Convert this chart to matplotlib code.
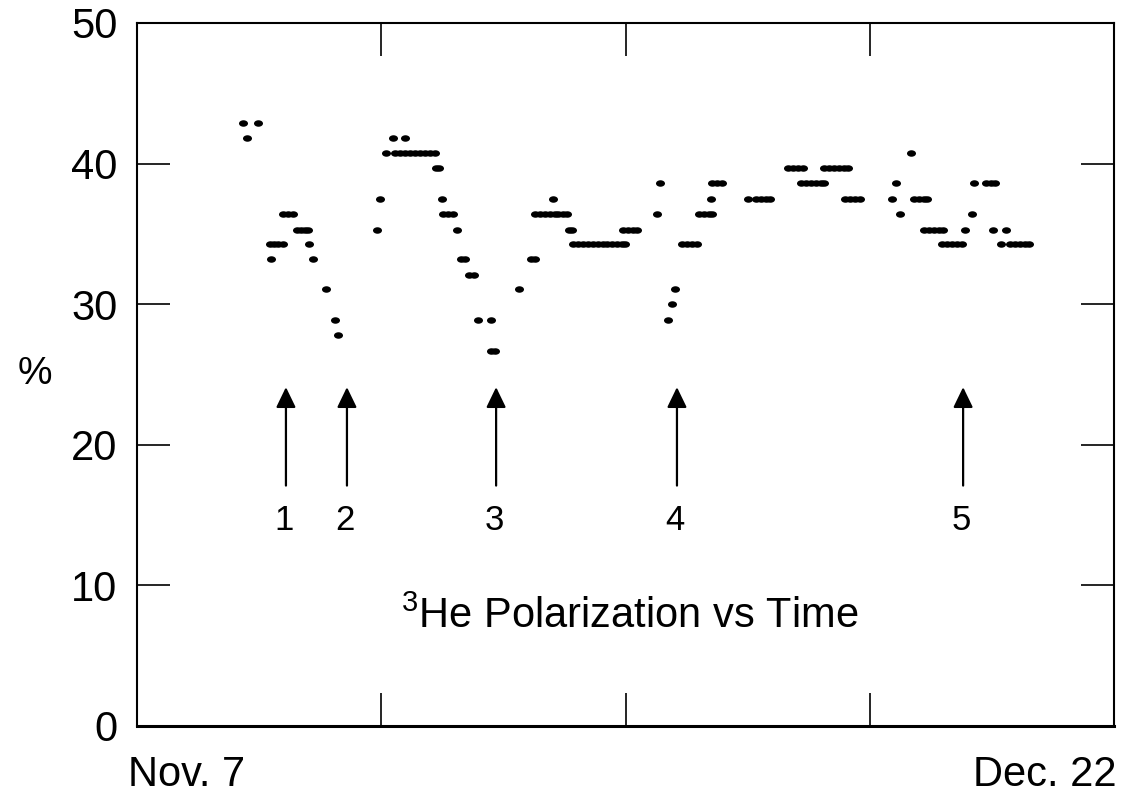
import numpy as np
import matplotlib.pyplot as plt
from matplotlib.path import Path

plt.rcParams["font.family"] = ["Liberation Sans", "DejaVu Sans"]
plt.rcParams["mathtext.fontset"] = "custom"
plt.rcParams["mathtext.rm"] = "Liberation Sans"

# ── data: days since Nov. 7, polarization in % ───────────────────────────────
day = [4.88, 5.07, 5.57,
       6.13, 6.17, 6.31, 6.49, 6.72, 6.72, 6.95, 7.19,
       7.37, 7.55, 7.74, 7.88, 7.92, 8.11, 8.71, 9.12, 9.26,
       11.05, 11.19, 11.47, 11.79,
       11.88, 12.11, 12.34, 12.34, 12.57, 12.80, 13.04, 13.27, 13.50, 13.73,
       13.77, 13.91, 14.05, 14.09, 14.32, 14.55, 14.74,
       14.92, 15.11, 15.29, 15.52, 15.71, 16.31, 16.31, 16.49,
       17.59, 18.15, 18.33,
       18.33, 18.56, 18.79, 19.02, 19.16, 19.25, 19.39, 19.62, 19.81,
       19.90, 20.04,
       20.08, 20.31, 20.54, 20.77, 21.00, 21.23, 21.46, 21.65,
       21.88, 22.11, 22.34, 22.48,
       22.39, 22.62, 22.85, 23.03,
       23.95, 24.09, 24.46, 24.64, 24.78,
       25.10, 25.33, 25.56, 25.79,
       25.89, 26.12, 26.35, 26.49,
       26.44, 26.49, 26.72, 26.95,
       28.14, 28.51, 28.74, 28.97, 29.16,
       29.99, 30.22, 30.45, 30.68,
       30.58, 30.81, 31.04, 31.27, 31.50, 31.64,
       31.64, 31.87, 32.10, 32.34, 32.57, 32.75,
       32.61, 32.84, 33.07, 33.30,
       34.77, 34.96, 35.15, 35.65,
       35.79, 36.02, 36.25, 36.39,
       36.25, 36.48, 36.71, 36.94, 37.13,
       37.08, 37.31, 37.54, 37.77, 38.00,
       38.14, 38.46, 38.55,
       39.11, 39.34, 39.52,
       39.43, 39.80, 40.03,
       40.21, 40.44, 40.67, 40.90, 41.09]

pol = [42.9, 41.8, 42.9,
       34.3, 33.2, 34.3, 34.3, 34.3, 36.4, 36.4, 36.4,
       35.3, 35.3, 35.3, 35.3, 34.3, 33.2, 31.1, 28.9, 27.8,
       35.3, 37.5, 40.75, 41.8,
       40.75, 40.75, 40.75, 41.8, 40.75, 40.75, 40.75, 40.75, 40.75, 40.75,
       39.7, 39.7, 37.5, 36.4, 36.4, 36.4, 35.3,
       33.2, 33.2, 32.1, 32.1, 28.9, 28.9, 26.7, 26.7,
       31.1, 33.2, 33.2,
       36.4, 36.4, 36.4, 36.4, 37.5, 36.4, 36.4, 36.4, 36.4,
       35.3, 35.3,
       34.3, 34.3, 34.3, 34.3, 34.3, 34.3, 34.3, 34.3,
       34.3, 34.3, 34.3, 34.3,
       35.3, 35.3, 35.3, 35.3,
       36.4, 38.6, 28.9, 30.0, 31.1,
       34.3, 34.3, 34.3, 34.3,
       36.4, 36.4, 36.4, 36.4,
       37.5, 38.6, 38.6, 38.6,
       37.5, 37.5, 37.5, 37.5, 37.5,
       39.7, 39.7, 39.7, 39.7,
       38.6, 38.6, 38.6, 38.6, 38.6, 38.6,
       39.7, 39.7, 39.7, 39.7, 39.7, 39.7,
       37.5, 37.5, 37.5, 37.5,
       37.5, 38.6, 36.4, 40.75,
       37.5, 37.5, 37.5, 37.5,
       35.3, 35.3, 35.3, 35.3, 35.3,
       34.3, 34.3, 34.3, 34.3, 34.3,
       35.3, 36.4, 38.6,
       38.6, 38.6, 38.6,
       35.3, 34.3, 35.3,
       34.3, 34.3, 34.3, 34.3, 34.3]

arrow_day = [6.86, 9.67, 16.54, 24.87, 38.05]
arrow_lbl = ["1", "2", "3", "4", "5"]

# slightly flattened dot, like the printed marks
circ = Path.unit_circle()
dot = Path(circ.vertices * [1.0, 0.72], circ.codes)

# ── figure ───────────────────────────────────────────────────────────────────
fig = plt.figure(figsize=(11.29, 7.96), dpi=100)
ax = fig.add_axes([0.12135, 0.08794, 0.86537, 0.88317])

ax.plot(day, pol, ls="none", marker=dot, color="k", ms=6.5, mec="none")

# arrows and their numbers
for xd, lbl in zip(arrow_day, arrow_lbl):
    ax.annotate("", xy=(xd, 24.1), xytext=(xd, 17.1),
                arrowprops=dict(arrowstyle="-|>,head_length=0.62,head_width=0.3",
                                color="k", lw=1.6, mutation_scale=20,
                                shrinkA=0, shrinkB=0))
    ax.text(xd - 0.1, 14.65, lbl, fontsize=25, ha="center", va="center")

ax.text(22.71, 6.97, r"$\mathregular{^3}$He Polarization vs Time",
        fontsize=30, ha="center", va="baseline")
ax.text(-0.105, 25.0, "%", transform=ax.get_yaxis_transform(),
        fontsize=28, ha="center", va="center")

ax.set_xlim(0, 45)
ax.set_ylim(0, 50)
ax.set_xticks([11.25, 22.5, 33.75])
ax.set_xticklabels([])
ax.set_yticks([0, 10, 20, 30, 40, 50])
ax.tick_params(direction="in", length=24, width=1.2, top=True, right=True,
               labelsize=30, pad=14)
for s in ax.spines.values():
    s.set_linewidth(1.5)
ax.spines["bottom"].set_linewidth(2.2)

fig.text(128 / 1129, 10 / 796, "Nov. 7", fontsize=30, ha="left", va="baseline")
fig.text(1117 / 1129, 10 / 796, "Dec. 22", fontsize=30, ha="right", va="baseline")

plt.savefig("out.png", dpi=100)
plt.close()
